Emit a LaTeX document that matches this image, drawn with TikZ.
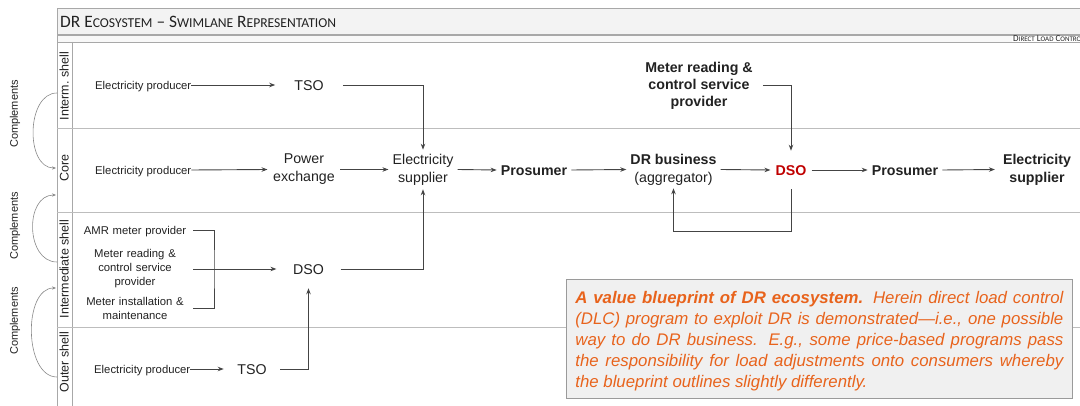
\documentclass[tikz,border=0pt]{standalone}
\usepackage{fontspec}
\setmainfont{Liberation Sans}
\newfontfamily\hdrfont{Carlito}
\usetikzlibrary{arrows.meta}
\definecolor{ink}{HTML}{222222}
\definecolor{wirec}{HTML}{444444}
\definecolor{rulec}{HTML}{BDBDBD}
\definecolor{framec}{HTML}{A8A8A8}
\definecolor{arcc}{HTML}{8A8A8A}
\definecolor{dsored}{HTML}{C00000}
\definecolor{notec}{HTML}{E8631C}
\definecolor{notebg}{HTML}{F0F0F0}
\definecolor{notedraw}{HTML}{9A9A9A}
\definecolor{hdrbg}{HTML}{F3F3F3}

\tikzset{
  wire/.style={draw=wirec, line width=0.9pt},
  arr/.style={wire, -{Stealth[length=6pt,width=4.5pt]}},
  lbl/.style={font=\fontsize{11.3}{14}\selectfont, text=ink, inner sep=0pt},
  one11/.style={text height=8.1pt, text depth=0pt},
  role/.style={font=\fontsize{14.2}{18}\selectfont, text=ink, align=center},
  rolebf/.style={font=\fontsize{14.2}{18}\selectfont\bfseries, text=ink, align=center},
  one/.style={text height=10.2pt, text depth=0pt},
  lane/.style={font=\fontsize{12.5}{14}\selectfont, text=ink, rotate=90, inner sep=0pt, text height=9pt, text depth=0pt},
  compl/.style={font=\fontsize{11}{13}\selectfont, text=ink, rotate=90, inner sep=0pt},
  carc/.style={draw=arcc, line width=0.6pt, -{Stealth[length=4pt,width=3.2pt]}},
  lanerule/.style={draw=rulec, line width=0.8pt},
  frame/.style={draw=framec, line width=0.8pt},
}

\begin{document}
\begin{tikzpicture}[x=1pt,y=-1pt]
\useasboundingbox (0,0) rectangle (1080,406);
\clip (0,0) rectangle (1080,406);

% page background
\fill[white] (0,0) rectangle (1080,406);

% swimlane frame: title row, tab strip, label column
\draw[frame, fill=hdrbg] (57,8) rectangle (1100,34);
\draw[frame, fill=hdrbg!60] (57,35.5) rectangle (1100,42);
\draw[frame] (57,42) -- (57,420);
\draw[frame] (72,42) -- (72,420);

% lane separators
\draw[lanerule] (57,128) -- (1100,128);
\draw[lanerule] (57,212) -- (1100,212);
\draw[lanerule] (57,327) -- (1100,327);

% header texts
\node[anchor=west, inner sep=0pt, font=\hdrfont, text=ink] (title) at (60,21.5)
  {\fontsize{17.4}{18}\selectfont DR E{\fontsize{13.6}{15}\selectfont COSYSTEM} {\textendash} S{\fontsize{13.6}{15}\selectfont WIMLANE} R{\fontsize{13.6}{15}\selectfont EPRESENTATION}};
\node[anchor=west, inner xsep=1pt, inner ysep=0.3pt, fill=white, font=\hdrfont, text=ink] (dlc) at (1012,39)
  {\fontsize{9}{9}\selectfont D{\fontsize{7}{7}\selectfont IRECT} L{\fontsize{7}{7}\selectfont OAD} C{\fontsize{7}{7}\selectfont ONTROL}};

% lane labels
\node[lane] (ln1) at (64,86) {Interm.\ shell};
\node[lane] (ln2) at (64,168) {Core};
\node[lane] (ln3) at (64,269) {Intermediate shell};
\node[lane] (ln4) at (64,362) {Outer shell};

% shell relations
\node[compl] (cp1) at (15,114) {Complements};
\node[compl] (cp2) at (15,226) {Complements};
\node[compl] (cp3) at (15,321) {Complements};
\coordinate (k1s) at (57,93);  \coordinate (k1e) at (56,168);
\coordinate (k2s) at (57,262); \coordinate (k2e) at (56,195);
\coordinate (k3s) at (57,377); \coordinate (k3e) at (56,288);
\draw[carc] (k1s) to[out=180,in=180,looseness=1.05] (k1e);
\draw[carc] (k2s) to[out=180,in=180,looseness=1.2] (k2e);
\draw[carc] (k3s) to[out=180,in=180,looseness=0.95] (k3e);

% intermediate shell (top)
\node[lbl, one11, anchor=west] (ep1) at (95,85) {Electricity producer};
\node[role, one, inner xsep=19pt, inner ysep=0pt] (tso1) at (309,85) {TSO};
\node[rolebf, font=\fontsize{14.2}{17}\selectfont\bfseries, inner xsep=10pt, inner ysep=0pt] (mr1) at (699,85.5)
  {Meter reading \&\\control service\\provider};

% core
\node[lbl, one11, anchor=west] (ep2) at (95,170) {Electricity producer};
\node[role, inner xsep=5.5pt, inner ysep=0pt] (px) at (304,169.5) {Power\\exchange};
\node[role, inner xsep=4pt, inner ysep=4pt] (sup1) at (423,169.5) {Electricity\\supplier};
\node[rolebf, one, inner xsep=4pt, inner ysep=0pt] (pro1) at (534,170) {Prosumer};
\node[role, inner xsep=4pt, inner ysep=3pt] (drb) at (673.5,169.5) {\textbf{DR business}\\(aggregator)};
\node[rolebf, one, text=dsored, inner xsep=5pt, inner ysep=14pt] (dso1) at (791,170) {DSO};
\node[rolebf, one, inner xsep=4pt, inner ysep=0pt] (pro2) at (905,170) {Prosumer};
\node[rolebf, inner xsep=8pt, inner ysep=0pt] (sup2) at (1037,169.5) {Electricity\\supplier};

% intermediate shell (bottom)
\node[lbl, one11, text width=116pt, align=center] (amr) at (135,230) {AMR meter provider};
\node[lbl, text width=116pt, align=center] (mr2) at (135,269) {Meter reading \&\\control service\\provider};
\node[lbl, text width=116pt, align=center] (mi) at (135,308) {Meter installation \&\\maintenance};
\node[role, one, inner xsep=16.5pt, inner ysep=14pt] (dso2) at (308.5,269) {DSO};
\coordinate (brk) at (214,269);

% outer shell
\node[lbl, one11, anchor=west] (ep4) at (94,369) {Electricity producer};
\node[role, one, inner xsep=13.5pt, inner ysep=0pt] (tso2) at (252,369) {TSO};

% value flows
\draw[arr] (ep1.east) -- (tso1.west);
\draw[arr] (tso1.east) -| (sup1.north);
\draw[arr] (mr1.east) -| (dso1.north);
\draw[arr] (ep2.east) -- (px.west);
\draw[arr] (px.east) -- (sup1.west);
\draw[arr] (sup1.east) -- (pro1.west);
\draw[arr] (pro1.east) -- (drb.west);
\draw[arr] (drb.east) -- (dso1.west);
\draw[arr] (dso1.east) -- (pro2.west);
\draw[arr] (pro2.east) -- (sup2.west);
\draw[arr] (dso1.south) -- ++(0,42) -| (drb.south);
\draw[wire] (amr.east) -| (brk) |- (mi.east);
\draw[arr] (mr2.east) -- (dso2.west);
\draw[arr] (dso2.east) -| (sup1.south);
\draw[arr] (ep4.east) -- (tso2.west);
\draw[arr] (tso2.east) -| (dso2.south);

% explanatory note
\node[anchor=north west, draw=notedraw, line width=0.8pt, fill=notebg, text width=488pt,
      inner xsep=9pt, inner ysep=8pt, align=justify, text=notec,
      font=\fontsize{16.8}{21}\selectfont\itshape] (note) at (566,279)
  {\rule{0pt}{16pt}\textbf{A value blueprint of DR ecosystem.} Herein direct load control\linebreak
   (DLC) program to exploit DR is demonstrated\textemdash i.e., one possible\linebreak
   way to do DR business. E.g., some price-based programs pass\linebreak
   the responsibility for load adjustments onto consumers whereby\linebreak
   the blueprint outlines slightly differently.};
\end{tikzpicture}
\end{document}
